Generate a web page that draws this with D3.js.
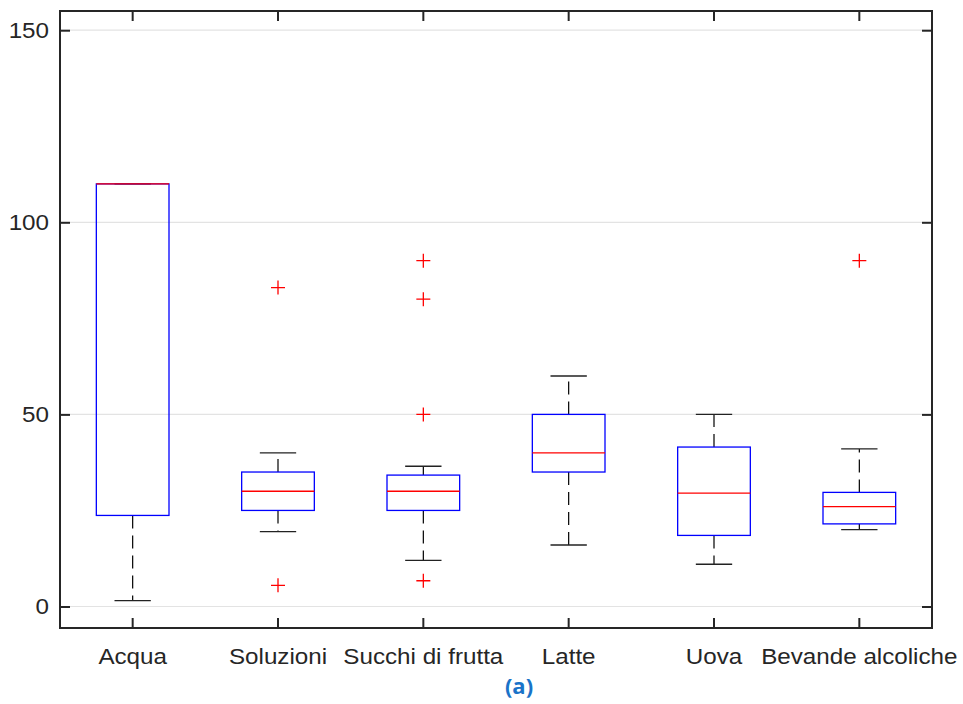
<!DOCTYPE html>
<html>
<head>
<meta charset="utf-8">
<script src="https://cdn.jsdelivr.net/npm/d3@7"></script>
<style>
  body { margin: 0; background: #fff; }
  text { font-family: "Liberation Sans", Arial, sans-serif; }
</style>
</head>
<body>
<div id="mainvis"></div>
<script>
// values
let categories = ["Acqua", "Soluzioni", "Succhi di frutta", "Latte", "Uova", "Bevande alcoliche"];
let whiskerLow  = [1.5, 19.5, 12, 16, 11, 20];
let q1          = [23.7, 25, 25, 35, 18.5, 21.5];
let medians     = [110, 30, 30, 40, 29.5, 26];
let q3          = [110, 35, 34.2, 50, 41.5, 29.7];
let whiskerHigh = [110, 40, 36.5, 60, 50, 41];
let outliers    = [[], [83, 5.5], [90, 80, 50, 6.7], [], [], [90]];
let yTicks = [0, 50, 100, 150];

let svgWidth = 963, svgHeight = 704;
let plotLeft = 60, plotRight = 932, plotTop = 11, plotBottom = 628;
let stretch = 1.1;

let svg = d3.select("#mainvis")
    .append("svg")
    .attr("width", svgWidth)
    .attr("height", svgHeight)

let xScale = d3.scaleBand()
    .domain(categories)
    .range([plotLeft, plotRight])
    .paddingInner(0)
    .paddingOuter(0);

let yScale = d3.scaleLinear()
    .domain([-5.6, 155])
    .range([plotBottom, plotTop]);

let bw = xScale.bandwidth();
let cx = d => xScale(d) + bw / 2;

// gridlines
svg.append("g")
    .selectAll("line")
    .data(yTicks)
    .enter()
    .append("line")
    .attr("x1", plotLeft)
    .attr("x2", plotRight)
    .attr("y1", d => yScale(d))
    .attr("y2", d => yScale(d))
    .style("stroke", "#e3e3e3")
    .style("stroke-width", 1.2);

let rows = categories.map((c, i) => ({
    name: c, lo: whiskerLow[i], q1: q1[i], med: medians[i], q3: q3[i], hi: whiskerHigh[i], out: outliers[i]
}));

let box = svg.append("g").selectAll(".box")
    .data(rows)
    .enter()
    .append("g")
    .attr("class", "box");

// whiskers
box.append("line")
    .attr("x1", d => cx(d.name)).attr("x2", d => cx(d.name))
    .attr("y1", d => yScale(d.q3)).attr("y2", d => yScale(d.hi))
    .style("stroke", "#000").style("stroke-width", 1.2)
    .style("stroke-dasharray", "13,7");

box.append("line")
    .attr("x1", d => cx(d.name)).attr("x2", d => cx(d.name))
    .attr("y1", d => yScale(d.q1)).attr("y2", d => yScale(d.lo))
    .style("stroke", "#000").style("stroke-width", 1.2)
    .style("stroke-dasharray", "13,7");

// caps
["lo", "hi"].forEach(k => {
    box.append("line")
        .attr("x1", d => cx(d.name) - bw / 8).attr("x2", d => cx(d.name) + bw / 8)
        .attr("y1", d => yScale(d[k])).attr("y2", d => yScale(d[k]))
        .style("stroke", "#222").style("stroke-width", 1.3);
});

// boxes
box.append("rect")
    .attr("x", d => cx(d.name) - bw / 4)
    .attr("width", bw / 2)
    .attr("y", d => yScale(d.q3))
    .attr("height", d => yScale(d.q1) - yScale(d.q3))
    .style("fill", "none")
    .style("stroke", "#0000ff")
    .style("stroke-width", 1.3);

// medians
box.append("line")
    .attr("x1", d => cx(d.name) - bw / 4).attr("x2", d => cx(d.name) + bw / 4)
    .attr("y1", d => yScale(d.med)).attr("y2", d => yScale(d.med))
    .style("stroke", "#ff0000").style("stroke-width", 1.3);

// outliers as '+'
box.selectAll(".outlier")
    .data(d => d.out.map(v => ({ name: d.name, v: v })))
    .enter()
    .append("path")
    .attr("class", "outlier")
    .attr("d", d => {
        let x = cx(d.name), y = yScale(d.v), s = 7;
        return "M" + (x - s) + "," + y + "H" + (x + s) + "M" + x + "," + (y - s) + "V" + (y + s);
    })
    .style("stroke", "#ff0000")
    .style("stroke-width", 1.3)
    .style("fill", "none");

// axes
let yAxis = svg.append("g")
    .attr("transform", "translate(" + plotLeft + ",0)")
    .call(d3.axisLeft(yScale).tickValues(yTicks).tickSize(-10).tickSizeOuter(0).tickPadding(11));

svg.append("g")
    .attr("transform", "translate(" + plotRight + ",0)")
    .call(d3.axisRight(yScale).tickValues(yTicks).tickSize(-10).tickSizeOuter(0).tickFormat(""));

let xAxis = svg.append("g")
    .attr("transform", "translate(0," + plotBottom + ")")
    .call(d3.axisBottom(xScale).tickSize(-10).tickSizeOuter(0).tickPadding(20));

svg.append("g")
    .attr("transform", "translate(0," + plotTop + ")")
    .call(d3.axisTop(xScale).tickSize(-10).tickSizeOuter(0).tickFormat(""));

svg.selectAll(".domain").remove();
svg.selectAll(".tick line").style("stroke", "#262626").style("stroke-width", 2);
svg.selectAll(".tick text")
    .style("font-size", "22px")
    .style("fill", "#262626");

yAxis.selectAll(".tick text")
    .attr("x", -11 / stretch)
    .attr("transform", "scale(" + stretch + ",1)");

xAxis.selectAll(".tick text")
    .attr("transform", "scale(" + stretch + ",1)");

// frame
svg.append("rect")
    .attr("x", plotLeft)
    .attr("y", plotTop)
    .attr("width", plotRight - plotLeft)
    .attr("height", plotBottom - plotTop)
    .style("fill", "none")
    .style("stroke", "#262626")
    .style("stroke-width", 2);

// caption
svg.append("text")
    .attr("x", 519)
    .attr("y", 694)
    .attr("text-anchor", "middle")
    .text("(a)")
    .style("font-family", "'Open Sans', 'Noto Sans', sans-serif")
    .style("font-weight", "bold")
    .style("font-size", "22px")
    .style("fill", "#1a73c8");
</script>
</body>
</html>
